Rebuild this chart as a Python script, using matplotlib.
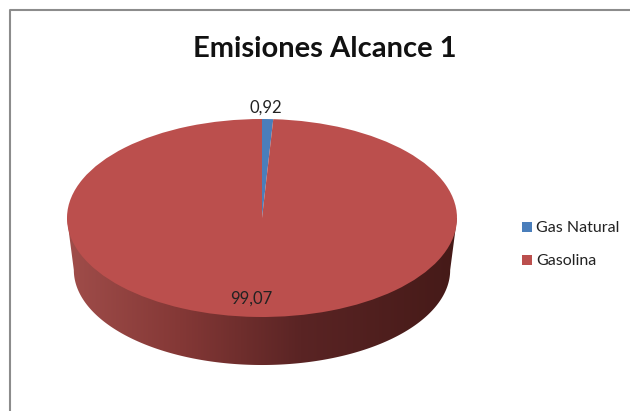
'''Emisiones Alcance 1 - tilted pie with a shaded side wall'''
import numpy as np
import matplotlib
matplotlib.use('Agg')
import matplotlib.pyplot as plt
from matplotlib.colors import LinearSegmentedColormap
from matplotlib.patches import Polygon, Rectangle

plt.rcParams['font.family'] = ['Lato', 'DejaVu Sans']

categories = ['Gas Natural', 'Gasolina']
values = [0.92, 99.07]
value_labels = ['0,92', '99,07']
colors = ['#4a7ebb', '#bb4f4d']

W, H = 630, 411
CX, CY = 262.0, 218.0   # centre of the top ellipse, pixels
RX, RY = 195.0, 99.0

fig = plt.figure(figsize=(W/100, H/100), dpi=100, facecolor='white')
ax = fig.add_axes([0, 0, 1, 1])
xlim = ((0 - CX)/RX, (W - CX)/RX)
ylim = ((CY - H)/RY, (CY - 0)/RY)

# side wall: lower ellipse is a bit narrower than the top one
low_rx, low_ry, low_drop = 0.965, 0.96, 0.525
t = np.linspace(np.pi, 2*np.pi, 200)
wall = np.column_stack((low_rx*np.cos(t), low_ry*np.sin(t) - low_drop))
wall = np.vstack(([-1, 0], wall, [1, 0]))
clip = Polygon(wall, closed=True, transform=ax.transData, fc='none', ec='none')
ax.add_patch(clip)

wall_cmap = LinearSegmentedColormap.from_list('wall', [
    (0.0, '#a04d4a'), (0.29, '#843836'), (0.60, '#5a2424'), (1.0, '#451a18')])
grad = np.linspace(0, 1, 256).reshape(1, -1)
im = ax.imshow(grad, cmap=wall_cmap, extent=(-1, 1, -1.6, 0), aspect='auto', zorder=1)
im.set_clip_path(clip)

wedges, _ = ax.pie(values, colors=colors, startangle=90, counterclock=False,
                   radius=1, center=(0, 0), frame=True)
for w in wedges:
    w.set_zorder(2)
    w.set_linewidth(0)
ax.set_aspect('auto')
ax.set_xlim(xlim)
ax.set_ylim(ylim)
ax.axis('off')

# value labels
ax.text((266 - CX)/RX, (CY - 107.5)/RY, value_labels[0], fontsize=12, color='#222222',
        ha='center', va='center', zorder=3)
ax.text((251 - CX)/RX, (CY - 299)/RY, value_labels[1], fontsize=12, color='#222222',
        ha='center', va='center', zorder=3)

fig.text(325/W, 1 - 49/H, 'Emisiones Alcance 1', fontsize=21, fontweight='bold',
         color='#111111', ha='center', va='center')

# legend drawn by hand to keep it at the exact spot
for name, col, ypx in zip(categories, colors, [227, 260]):
    fig.add_artist(Rectangle((522/W, 1 - (ypx + 5)/H), 10/W, 10/H,
                             transform=fig.transFigure, fc=col, ec='none'))
    fig.text(536/W, 1 - (ypx + 1)/H, name, fontsize=11.5, color='#222222', ha='left', va='center')

# chart frame, only left and top show in the crop
fig.add_artist(plt.Line2D([10/W, 10/W, 1], [0, 1 - 10/H, 1 - 10/H], color='#8c8c8c', lw=1.5))

fig.savefig('out.png', dpi=100)
